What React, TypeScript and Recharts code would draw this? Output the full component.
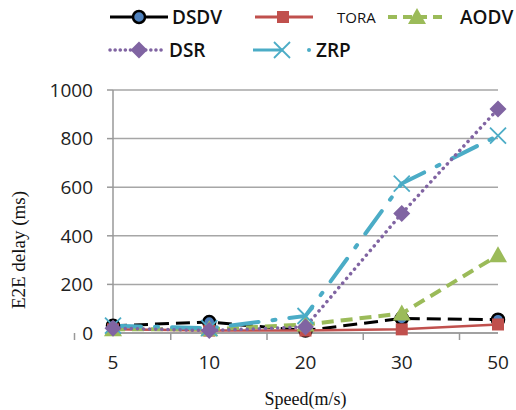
import React from 'react';
import { LineChart, Line, XAxis, YAxis, CartesianGrid } from 'recharts';

const speeds = ['5', '10', '20', '30', '50'];
const dsdv = [30, 45, 10, 60, 55];
const tora = [15, 10, 10, 15, 35];
const aodv = [15, 15, 35, 80, 320];
const dsr = [20, 10, 25, 492, 922];
const zrp = [30, 20, 70, 615, 812];
const yTicks = [0, 200, 400, 600, 800, 1000];

const data = speeds.map((s, i) => ({
    speed: s,
    DSDV: dsdv[i],
    TORA: tora[i],
    AODV: aodv[i],
    DSR: dsr[i],
    ZRP: zrp[i],
}));

const BLUE = '#4f81bd';
const RED = '#c0504d';
const GREEN = '#9bbb59';
const PURPLE = '#8064a2';
const CYAN = '#4bacc6';

const tickFont = { fontFamily: '"Open Sans", sans-serif', fontSize: 19, fill: '#222' };
const serifFont = { fontFamily: '"Liberation Serif", serif', fill: '#111' };

// marker shapes
const circleMark = (cx: number, cy: number, k?: any) => (
    <circle key={k} cx={cx} cy={cy} r={6} fill={BLUE} stroke="#000" strokeWidth={2.5} />
);
const squareMark = (cx: number, cy: number, k?: any) => (
    <rect key={k} x={cx - 6} y={cy - 6} width={12} height={12} fill={RED} />
);
const triMark = (cx: number, cy: number, k?: any) => (
    <polygon key={k} points={`${cx},${cy - 9} ${cx + 9},${cy + 7} ${cx - 9},${cy + 7}`} fill={GREEN} />
);
const diamondMark = (cx: number, cy: number, k?: any) => (
    <polygon key={k} points={`${cx},${cy - 8.5} ${cx + 8.5},${cy} ${cx},${cy + 8.5} ${cx - 8.5},${cy}`} fill={PURPLE} />
);
const xMark = (cx: number, cy: number, k?: any) => (
    <g key={k} stroke={CYAN} strokeWidth={1.8}>
        <line x1={cx - 8} y1={cy - 8} x2={cx + 8} y2={cy + 8} />
        <line x1={cx - 8} y1={cy + 8} x2={cx + 8} y2={cy - 8} />
    </g>
);

const dotFn = (mark: (cx: number, cy: number, k?: any) => React.ReactElement) => (p: any) =>
    mark(p.cx, p.cy, `m-${p.index}`);

const XTick = (props: any) => {
    const { x, y, payload, index } = props;
    const half = 38.5;
    return (
        <g>
            <line x1={x - half} y1={y - 8} x2={x - half} y2={y - 1} stroke="#999" strokeWidth={1.5} />
            {index === speeds.length - 1 && (
                <line x1={x + half} y1={y - 8} x2={x + half} y2={y - 1} stroke="#999" strokeWidth={1.5} />
            )}
            <text x={x} y={y + 28} textAnchor="middle" {...tickFont}>
                {payload.value}
            </text>
        </g>
    );
};

const YLabel = () => (
    <text x={18} y={250} transform="rotate(-90, 18, 250)" textAnchor="middle" dominantBaseline="central" fontSize={19} {...serifFont}>
        E2E delay (ms)
    </text>
);

const legendText = { fontFamily: '"Open Sans", sans-serif', fontSize: 19, fill: '#111', fontWeight: 600 };

const ChartLegend = () => (
    <svg width={516} height={70} style={{ position: 'absolute', left: 0, top: 0 }}>
        {/* row 1 */}
        <line x1={110} y1={17} x2={168} y2={17} stroke="#000" strokeWidth={3} />
        {circleMark(139, 17)}
        <text x={172} y={24} {...legendText}>DSDV</text>

        <line x1={255} y1={17} x2={313} y2={17} stroke={RED} strokeWidth={3} />
        {squareMark(283, 17)}
        <text x={337} y={22.5} {...legendText} fontSize={15} fontWeight={500}>TORA</text>

        <line x1={388} y1={17} x2={447} y2={17} stroke={GREEN} strokeWidth={4} strokeDasharray="9 6" />
        {triMark(417, 17)}
        <text x={460} y={24} {...legendText}>AODV</text>

        {/* row 2 */}
        <line x1={110} y1={50} x2={165} y2={50} stroke={PURPLE} strokeWidth={3.5} strokeDasharray="0.1 5" strokeLinecap="round" />
        {diamondMark(139, 50)}
        <text x={169} y={57} {...legendText}>DSR</text>

        <line x1={253} y1={50} x2={283} y2={50} stroke={CYAN} strokeWidth={3} />
        {xMark(282, 50)}
        <circle cx={309} cy={50} r={2} fill={CYAN} />
        <text x={316} y={57} {...legendText}>ZRP</text>
    </svg>
);

export default function App() {
    return (
        <div style={{ position: 'absolute', left: 0, top: 0, width: 516, height: 410, background: '#fff' }}>
            <LineChart width={516} height={410} data={data} margin={{ top: 90, right: 18, bottom: 0, left: 0 }}>
                <CartesianGrid vertical={false} stroke="#a6a6a6" strokeWidth={1.5} />
                <XAxis
                    dataKey="speed"
                    height={77}
                    axisLine={{ stroke: '#999', strokeWidth: 1.5 }}
                    tickLine={false}
                    tick={<XTick />}
                    interval={0}
                    label={{
                        value: 'Speed(m/s)',
                        position: 'insideBottom',
                        offset: 5,
                        style: { ...serifFont, fontSize: 18 },
                    }}
                />
                <YAxis
                    width={113}
                    domain={[0, 1000]}
                    ticks={yTicks}
                    interval={0}
                    axisLine={{ stroke: '#999', strokeWidth: 1.5 }}
                    tickLine={{ stroke: '#999', strokeWidth: 1.5 }}
                    tickSize={6}
                    tickMargin={14}
                    tick={tickFont}
                    label={<YLabel />}
                />
                <Line
                    type="linear"
                    dataKey="DSDV"
                    stroke="#000"
                    strokeWidth={3}
                    strokeDasharray="14 7"
                    dot={dotFn(circleMark)}
                    isAnimationActive={false}
                />
                <Line
                    type="linear"
                    dataKey="TORA"
                    stroke={RED}
                    strokeWidth={2.5}
                    dot={dotFn(squareMark)}
                    isAnimationActive={false}
                />
                <Line
                    type="linear"
                    dataKey="AODV"
                    stroke={GREEN}
                    strokeWidth={4}
                    strokeDasharray="12 7"
                    dot={dotFn(triMark)}
                    isAnimationActive={false}
                />
                <Line
                    type="linear"
                    dataKey="ZRP"
                    stroke={CYAN}
                    strokeWidth={4}
                    strokeDasharray="28 14 3 14"
                    strokeLinecap="round"
                    dot={dotFn(xMark)}
                    isAnimationActive={false}
                />
                <Line
                    type="linear"
                    dataKey="DSR"
                    stroke={PURPLE}
                    strokeWidth={3.5}
                    strokeDasharray="0.1 6"
                    strokeLinecap="round"
                    dot={dotFn(diamondMark)}
                    isAnimationActive={false}
                />
            </LineChart>
            <ChartLegend />
        </div>
    );
}
